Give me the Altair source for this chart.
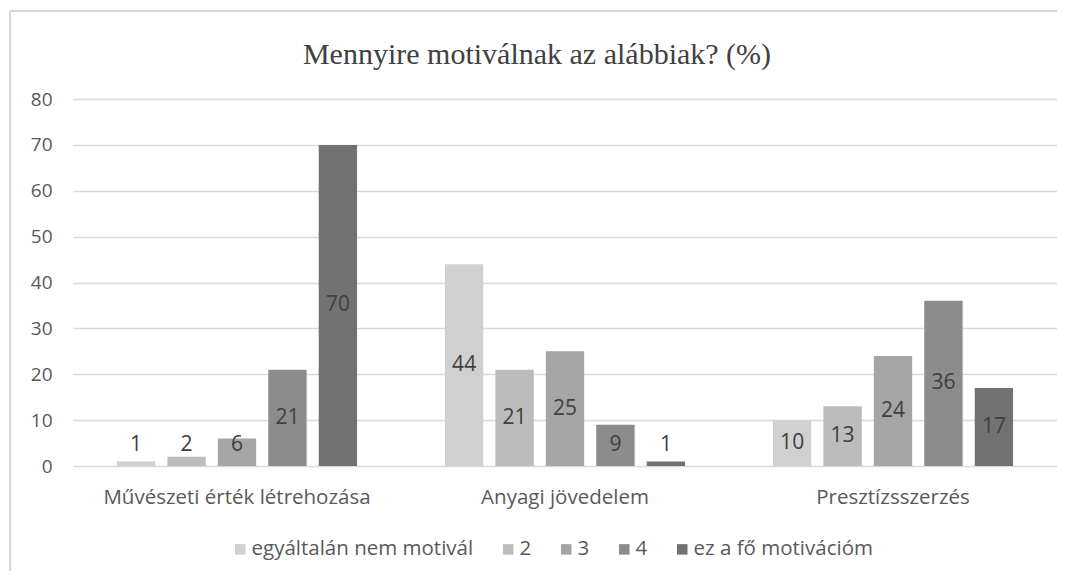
import altair as alt
import pandas as pd

title_text = "Mennyire motiválnak az alábbiak? (%)"
categories = ["Művészeti érték létrehozása", "Anyagi jövedelem", "Presztízsszerzés"]
series = ["egyáltalán nem motivál", "2", "3", "4", "ez a fő motivációm"]
values = {
    "egyáltalán nem motivál": [1, 44, 10],
    "2": [2, 21, 13],
    "3": [6, 25, 24],
    "4": [21, 9, 36],
    "ez a fő motivációm": [70, 1, 17],
}
colors = ["#d0d0d0", "#bcbcbc", "#a5a5a5", "#8c8c8c", "#727272"]

rows = []
for s in series:
    for c, v in zip(categories, values[s]):
        rows.append({"cat": c, "series": s, "value": v, "labpos": max(v / 2, 4.6)})
df = pd.DataFrame(rows)

FONT = "Open Sans"

x = alt.X("cat:N", sort=categories, title=None,
          scale=alt.Scale(paddingInner=0.268, paddingOuter=0.134),
          axis=alt.Axis(labelAngle=0, labelFontSize=20.5, labelColor="#595959",
                        labelFont=FONT, ticks=False, domain=False, labelPadding=21,
                        labelLimit=0))
xo = alt.XOffset("series:N", sort=series,
                 scale=alt.Scale(paddingInner=0.24, paddingOuter=0))

bars = alt.Chart(df).mark_bar().encode(
    x=x, xOffset=xo,
    y=alt.Y("value:Q", title=None,
            scale=alt.Scale(domain=[0, 80], nice=False),
            axis=alt.Axis(values=list(range(0, 81, 10)), labelFontSize=19,
                          labelColor="#595959", labelFont=FONT, ticks=False,
                          domain=False, gridColor="#d9d9d9", gridWidth=1.5,
                          labelPadding=21)),
    color=alt.Color("series:N", sort=series,
                    scale=alt.Scale(domain=series, range=colors),
                    legend=alt.Legend(title=None, orient="none", direction="horizontal",
                                      legendX=157, legendY=440, symbolType="square",
                                      symbolSize=110, labelFontSize=20.5,
                                      labelColor="#595959", labelFont=FONT,
                                      columnPadding=24, labelOffset=1,
                                      symbolStrokeWidth=0, labelLimit=0)),
)

labels = alt.Chart(df).mark_text(fontSize=21, color="#404040", font=FONT).encode(
    x=alt.X("cat:N", sort=categories), xOffset=xo,
    y=alt.Y("labpos:Q"),
    text=alt.Text("value:Q"),
)

title = alt.Chart(pd.DataFrame({"t": [title_text]})).mark_text(
    font="Liberation Serif", fontSize=30, color="#404040", align="center", baseline="middle"
).encode(x=alt.value(464), y=alt.value(-44), text="t:N")

border_top = alt.Chart(df).mark_rule(color="#d6d6d6", strokeWidth=1.5).encode(
    x=alt.value(-63), x2=alt.value(1000), y=alt.value(-88))
border_left = alt.Chart(df).mark_rule(color="#d6d6d6", strokeWidth=1.5).encode(
    x=alt.value(-63), y=alt.value(-88), y2=alt.value(480))

chart = alt.layer(bars, labels, title, border_top, border_left).properties(
    width=984, height=367,
    autosize=alt.AutoSizeParams(type="none"),
    padding={"left": 65, "top": 91, "right": 0, "bottom": 105},
).configure_view(stroke=None)

chart.save("out.html", embed_options={"renderer": "svg", "actions": False})
